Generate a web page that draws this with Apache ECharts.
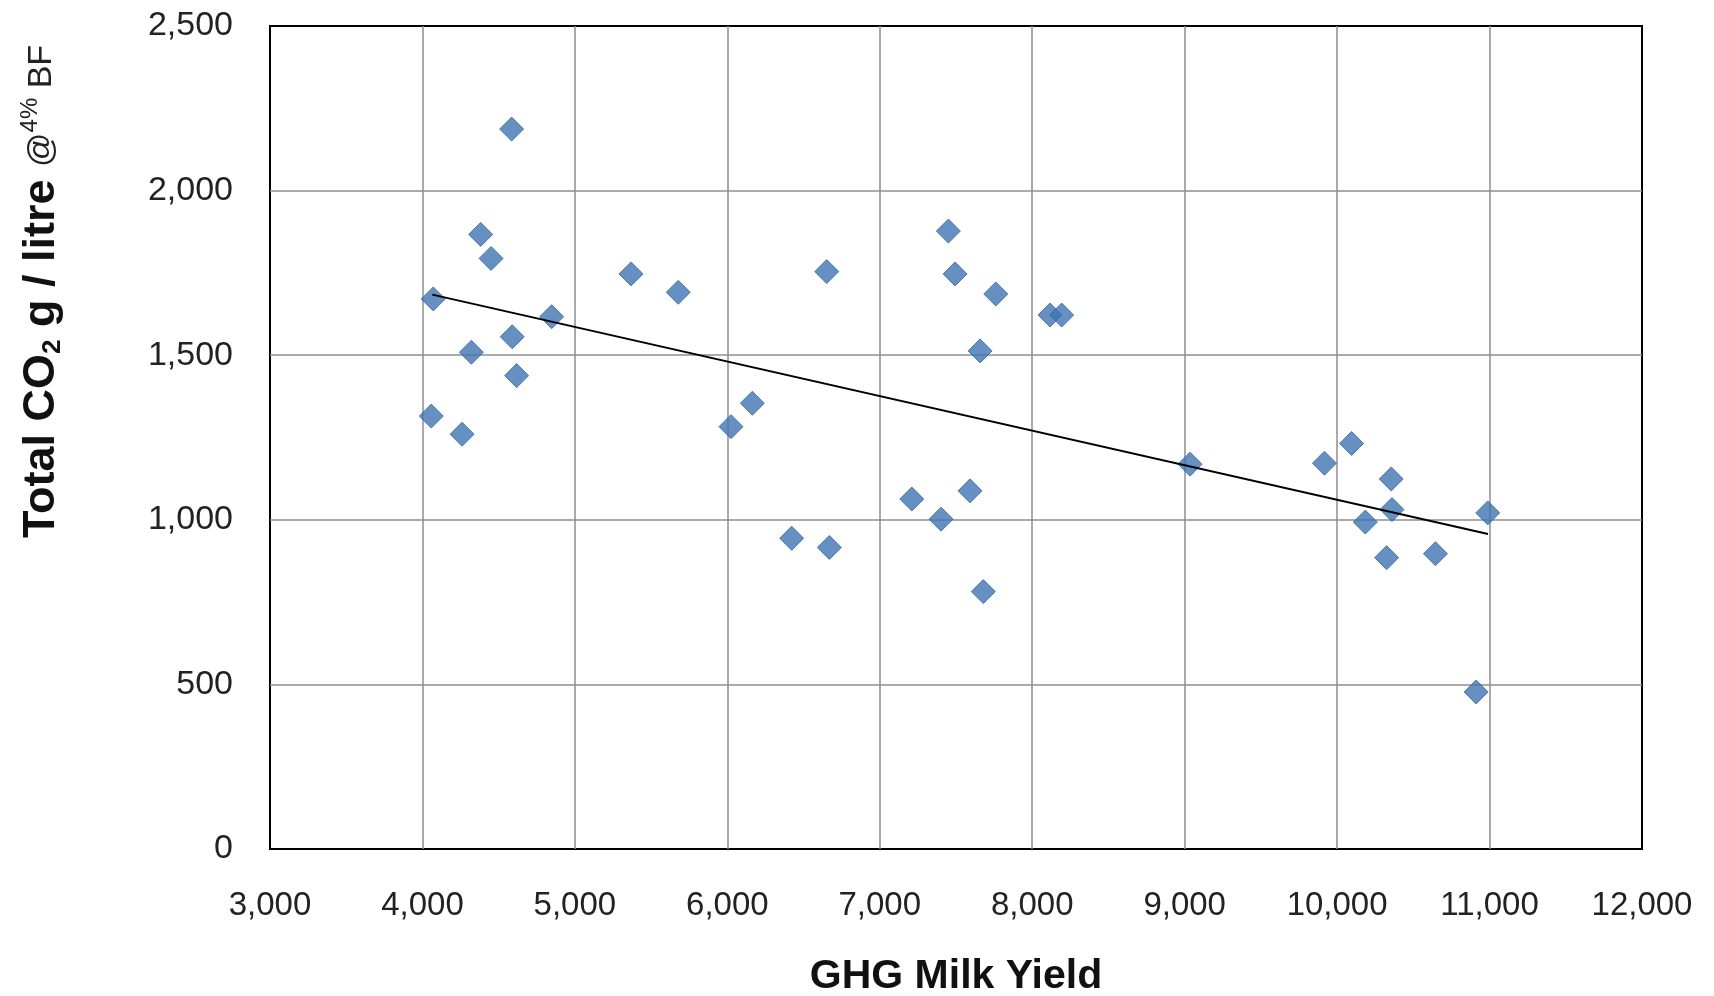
<!DOCTYPE html>
<html>
<head>
<meta charset="utf-8">
<script src="https://cdn.jsdelivr.net/npm/echarts@6/dist/echarts.min.js"></script>
<style>
html,body{margin:0;padding:0;background:#fff;}
#chart{width:1714px;height:996px;}
</style>
</head>
<body>
<div id="chart"></div>
<script>
// GHG milk yield (litres) per farm
const milkYield = [4585, 4382, 4450, 4071, 4848, 4589, 4321, 4618, 4058, 4260,
  5368, 5678, 6164, 6024, 6652, 6422, 6669,
  7450, 7494, 7761, 8117, 8193, 7658, 7210, 7402, 7592, 7679,
  9035, 9917, 10095, 10355, 10360, 10185, 10325, 10645, 10988, 10912];
// Total CO2 g / litre @4% BF
const co2PerLitre = [2187, 1867, 1794, 1671, 1617, 1556, 1509, 1438, 1315, 1260,
  1747, 1691, 1354, 1283, 1754, 944, 916,
  1877, 1747, 1686, 1622, 1622, 1513, 1063, 1002, 1088, 782,
  1169, 1172, 1232, 1124, 1031, 993, 885, 897, 1021, 477];
// Linear trendline end points
const trendX = [4065, 10990];
const trendY = [1684, 957];

const xTicks = {min: 3000, max: 12000, interval: 1000};
const yTicks = {min: 0, max: 2500, interval: 500};

const fmt = v => Number(v).toLocaleString('en-US');
const FONT = "'Liberation Sans', Arial, sans-serif";

const chart = echarts.init(document.getElementById('chart'), null, {renderer: 'canvas'});
chart.setOption({
  backgroundColor: '#ffffff',
  animation: false,
  grid: {
    left: 270, right: 72, top: 26, bottom: 147,
    show: true, borderColor: '#000', borderWidth: 2,
    containLabel: false, outerBoundsMode: 'none'
  },
  xAxis: {
    type: 'value',
    min: xTicks.min, max: xTicks.max, interval: xTicks.interval,
    name: 'GHG Milk Yield',
    nameLocation: 'middle',
    nameGap: 107,
    nameTextStyle: {fontFamily: FONT, fontWeight: 'bold', fontSize: 41, color: '#111'},
    axisLine: {show: false},
    axisTick: {show: false},
    axisLabel: {formatter: fmt, fontFamily: FONT, fontSize: 33, color: '#222', margin: 40},
    splitLine: {show: true, showMinLine: false, showMaxLine: false, lineStyle: {color: '#8e8e8e', width: 1.5}}
  },
  yAxis: {
    type: 'value',
    min: yTicks.min, max: yTicks.max, interval: yTicks.interval,
    name: '{b|Total CO}{sub|2}{b| g / litre }{n|@}{sup|4%}{n| BF}',
    nameLocation: 'middle',
    nameRotate: 90,
    nameGap: 204,
    nameTextStyle: {
      padding: [0, 0, 0, 292],
      rich: {
        b: {fontFamily: FONT, fontWeight: 'bold', fontSize: 45, color: '#111', lineHeight: 48},
        sub: {fontFamily: FONT, fontWeight: 'bold', fontSize: 26, color: '#111', verticalAlign: 'bottom', lineHeight: 48, padding: [16, 0, 0, 0]},
        n: {fontFamily: FONT, fontSize: 34, color: '#222', lineHeight: 48},
        sup: {fontFamily: FONT, fontSize: 24, color: '#222', verticalAlign: 'top', lineHeight: 48}
      }
    },
    axisLine: {show: false},
    axisTick: {show: false},
    axisLabel: {formatter: fmt, fontFamily: FONT, fontSize: 34, color: '#222', margin: 37},
    splitLine: {show: true, showMinLine: false, showMaxLine: false, lineStyle: {color: '#8e8e8e', width: 1.5}}
  },
  series: [
    {
      type: 'scatter',
      data: milkYield.map((x, i) => [x, co2PerLitre[i]]),
      symbol: 'diamond',
      symbolSize: 24,
      itemStyle: {color: '#3f74b2', borderColor: '#36659c', borderWidth: 1},
      z: 3
    },
    {
      type: 'line',
      data: trendX.map((x, i) => [x, trendY[i]]),
      symbol: 'none',
      lineStyle: {color: '#000', width: 2},
      z: 4
    }
  ]
});
</script>
</body>
</html>
